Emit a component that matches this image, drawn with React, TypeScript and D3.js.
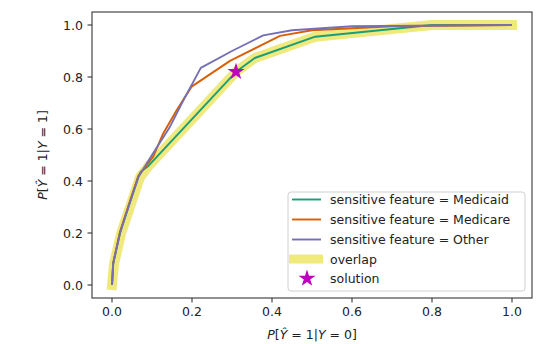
import React, { useRef, useEffect } from 'react';
import * as d3 from 'd3';

// curve points
const medicaidX = [0, 0.003, 0.02, 0.041, 0.066, 0.072, 0.091, 0.31, 0.357, 0.508, 0.8, 1.0];
const medicaidY = [0, 0.083, 0.2, 0.3, 0.417, 0.436, 0.458, 0.82, 0.873, 0.955, 1.0, 1.0];

const medicareX = [0, 0.003, 0.02, 0.041, 0.066, 0.103, 0.128, 0.162, 0.199, 0.295, 0.42, 0.5, 0.7, 1.0];
const medicareY = [0, 0.085, 0.205, 0.305, 0.42, 0.494, 0.583, 0.673, 0.763, 0.862, 0.958, 0.98, 0.995, 1.0];

const otherX = [0, 0.003, 0.02, 0.041, 0.066, 0.1, 0.145, 0.18, 0.222, 0.3, 0.378, 0.45, 0.6, 1.0];
const otherY = [0, 0.083, 0.2, 0.3, 0.415, 0.5, 0.609, 0.715, 0.835, 0.9, 0.96, 0.98, 0.995, 1.0];

const overlapX = [0, 0.005, 0.023, 0.045, 0.07, 0.09, 0.31, 0.357, 0.508, 0.8, 1.0];
const overlapY = [0, 0.08, 0.2, 0.3, 0.415, 0.455, 0.82, 0.873, 0.955, 1.0, 1.0];

const solution = { x: 0.31, y: 0.82 };

const xTicks = [0, 0.2, 0.4, 0.6, 0.8, 1.0];
const yTicks = [0, 0.2, 0.4, 0.6, 0.8, 1.0];

const seriesNames = ['sensitive feature = Medicaid', 'sensitive feature = Medicare', 'sensitive feature = Other'];
const seriesColors = ['#1b9e77', '#d95f02', '#7570b3'];

const W = 542;
const H = 344;
const FONT = 'DejaVu Sans, sans-serif';
const FS = 12.5;

const App: React.FC = () => {
  const svgRef = useRef<SVGSVGElement>(null);

  useEffect(() => {
    if (!svgRef.current) return;
    const svg = d3.select(svgRef.current);
    svg.selectAll('*').remove();

    const left = 92, right = 532, top = 12, bottom = 298;
    const x = d3.scaleLinear().domain([-0.05, 1.05]).range([left, right]);
    const y = d3.scaleLinear().domain([-0.05, 1.05]).range([bottom, top]);

    svg.append('rect').attr('width', W).attr('height', H).attr('fill', '#fff');

    const line = d3.line<[number, number]>().x(d => x(d[0])).y(d => y(d[1]));
    const zip = (xs: number[], ys: number[]) => xs.map((v, i) => [v, ys[i]] as [number, number]);

    // overlap band
    svg.append('path')
      .attr('d', line(zip(overlapX, overlapY)))
      .attr('fill', 'none')
      .attr('stroke', '#ece35e')
      .attr('stroke-opacity', 0.8)
      .attr('stroke-width', 10)
      .attr('stroke-linecap', 'square')
      .attr('stroke-linejoin', 'round');

    const series = [zip(medicaidX, medicaidY), zip(medicareX, medicareY), zip(otherX, otherY)];
    series.forEach((pts, i) => {
      svg.append('path')
        .attr('d', line(pts))
        .attr('fill', 'none')
        .attr('stroke', seriesColors[i])
        .attr('stroke-width', 1.9)
        .attr('stroke-linejoin', 'round');
    });

    const star = d3.symbol().type(d3.symbolStar).size(90);
    svg.append('path')
      .attr('d', star())
      .attr('transform', `translate(${x(solution.x)},${y(solution.y)})`)
      .attr('fill', '#bf00bf');

    // frame
    svg.append('rect')
      .attr('x', left).attr('y', top)
      .attr('width', right - left).attr('height', bottom - top)
      .attr('fill', 'none').attr('stroke', '#222').attr('stroke-width', 1);

    // ticks
    xTicks.forEach(t => {
      svg.append('line').attr('x1', x(t)).attr('x2', x(t)).attr('y1', bottom).attr('y2', bottom + 4.5)
        .attr('stroke', '#222');
      svg.append('text').attr('x', x(t)).attr('y', bottom + 18)
        .attr('text-anchor', 'middle').attr('font-family', FONT).attr('font-size', FS).attr('fill', '#222')
        .text(t.toFixed(1));
    });
    yTicks.forEach(t => {
      svg.append('line').attr('x1', left).attr('x2', left - 4.5).attr('y1', y(t)).attr('y2', y(t))
        .attr('stroke', '#222');
      svg.append('text').attr('x', left - 9).attr('y', y(t)).attr('dy', '0.36em')
        .attr('text-anchor', 'end').attr('font-family', FONT).attr('font-size', FS).attr('fill', '#222')
        .text(t.toFixed(1));
    });

    // axis labels
    const mathLabel = (g: d3.Selection<SVGTextElement, unknown, null, undefined>, v: string) => {
      g.append('tspan').attr('font-style', 'italic').text('P');
      g.append('tspan').text('[');
      g.append('tspan').attr('font-style', 'italic').text('Ŷ');
      g.append('tspan').text(' = 1|');
      g.append('tspan').attr('font-style', 'italic').text('Y');
      g.append('tspan').text(` = ${v}]`);
    };
    const xl = svg.append('text').attr('x', (left + right) / 2).attr('y', 339)
      .attr('text-anchor', 'middle').attr('font-family', FONT).attr('font-size', FS).attr('fill', '#222');
    mathLabel(xl, '0');
    const yl = svg.append('text').attr('transform', `translate(47,${(top + bottom) / 2}) rotate(-90)`)
      .attr('text-anchor', 'middle').attr('font-family', FONT).attr('font-size', FS).attr('fill', '#222');
    mathLabel(yl, '1');

    // legend
    const lg = svg.append('g');
    lg.append('rect').attr('x', 288).attr('y', 192).attr('width', 237).attr('height', 99)
      .attr('rx', 3).attr('fill', '#fff').attr('fill-opacity', 0.8).attr('stroke', '#d0d0d0');
    const rowY = [199.5, 219.5, 239.5, 259, 278.5];
    seriesNames.forEach((n, i) => {
      lg.append('line').attr('x1', 292).attr('x2', 321).attr('y1', rowY[i]).attr('y2', rowY[i])
        .attr('stroke', seriesColors[i]).attr('stroke-width', 1.9);
      lg.append('text').attr('x', 330).attr('y', rowY[i]).attr('dy', '0.36em')
        .attr('font-family', FONT).attr('font-size', FS).attr('fill', '#222').text(n);
    });
    lg.append('rect').attr('x', 289).attr('y', rowY[3] - 4.5).attr('width', 34).attr('height', 9)
      .attr('fill', '#ece35e').attr('fill-opacity', 0.8);
    lg.append('text').attr('x', 330).attr('y', rowY[3]).attr('dy', '0.36em')
      .attr('font-family', FONT).attr('font-size', FS).attr('fill', '#222').text('overlap');
    lg.append('path').attr('d', star()).attr('transform', `translate(307,${rowY[4]})`).attr('fill', '#bf00bf');
    lg.append('text').attr('x', 330).attr('y', rowY[4]).attr('dy', '0.36em')
      .attr('font-family', FONT).attr('font-size', FS).attr('fill', '#222').text('solution');
  }, []);

  return (
    <svg ref={svgRef} width={W} height={H}
      style={{ position: 'absolute', left: 0, top: 0, display: 'block' }} />
  );
};

export default App;
